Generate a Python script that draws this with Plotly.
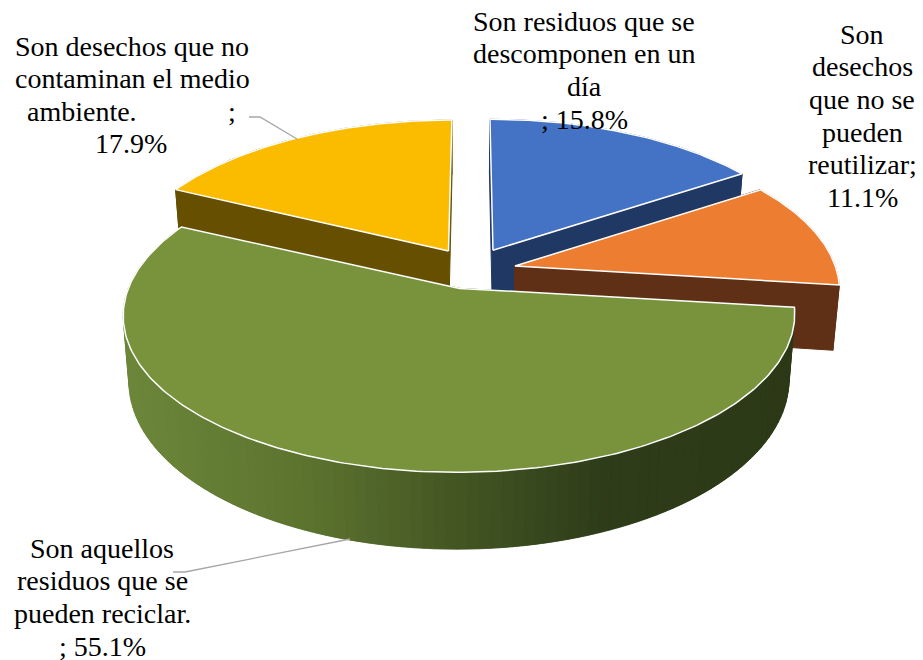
import numpy as np
import plotly.graph_objects as go

# --- data ---
blue_lines = ["Son residuos que se", "descomponen en un", "día"]
orange_lines = ["Son", "desechos", "que no se", "pueden", "reutilizar;"]
green_lines = ["Son aquellos", "residuos que se", "pueden reciclar."]
yellow_lines = ["Son desechos que no", "contaminan el medio"]
values = [15.8, 11.1, 55.1, 17.9]
top_colors = ["#4472C4", "#ED7D31", "#78933C", "#FBBC00"]
wall_colors = ["#203864", "#5F3015", "#2C3917", "#665000"]
draw_order = [3, 0, 1, 2]

# --- projection of the tilted pie ---
W, H = 923, 660
CX, CY = 472.0, 271.5
R_BACK, R_FRONT, K, P = 329.0, 331.0, 153.0, 0.168
EXPLODE, K_BACK, K_FRONT = 44.0, 0.55, 0.40
DEPTH = 64.0
VX, CONVERGE = 460.0, 0.983
total = sum(values)
edges = np.cumsum([0] + values) / total * 2 * np.pi


def is_front(i):
    return np.cos((edges[i] + edges[i + 1]) / 2) <= 0


def offset(i):
    b = (edges[i] + edges[i + 1]) / 2
    k = K_FRONT if is_front(i) else K_BACK
    return EXPLODE * np.sin(b), -EXPLODE * k * np.cos(b)


def rim(theta, i):
    dx, dy = offset(i)
    z = np.cos(theta)
    s = 1 / (1 + P * z)
    f = 1.03 if is_front(i) else 0.8 + 0.2 * z
    r = R_FRONT if is_front(i) else R_BACK
    return CX + (dx * f + r * np.sin(theta)) * s, CY + dy - K * z * s, DEPTH * s


def apex(i):
    dx, dy = offset(i)
    return CX + dx, CY + dy, DEPTH


def low(x):
    return VX + (np.asarray(x) - VX) * CONVERGE


def shade(x):
    stops_x = [120, 300, 460, 600, 800]
    r = np.interp(x, stops_x, [108, 92, 66, 46, 44])
    g = np.interp(x, stops_x, [135, 115, 84, 60, 57])
    b = np.interp(x, stops_x, [58, 47, 34, 25, 23])
    return f"rgb({r:.0f},{g:.0f},{b:.0f})"


fig = go.Figure()


def poly(xs, ys, fill, line=None, width=1):
    fig.add_trace(go.Scatter(x=xs, y=ys, mode="lines", fill="toself", fillcolor=fill,
                             line=dict(color=line or fill, width=width),
                             hoverinfo="skip", showlegend=False))


for i in draw_order:
    th = np.linspace(edges[i], edges[i + 1], 240)
    rx, ry, d = rim(th, i)
    ax, ay, ad = apex(i)
    lx, lax = low(rx), float(low(ax))
    c = wall_colors[i]
    # radial walls
    for j in (0, -1):
        poly([ax, rx[j], lx[j], lax, ax], [ay, ry[j], ry[j] + d[j], ay + ad, ay], c)
    # curved wall
    if i == 2:
        for a in range(0, 239, 2):
            b = min(a + 4, 239)
            poly([rx[a], rx[b], lx[b], lx[a], rx[a]],
                 [ry[a], ry[b], ry[b] + d[b], ry[a] + d[a], ry[a]],
                 shade((rx[a] + rx[b]) / 2), width=0.5)
    else:
        poly(np.r_[rx, lx[::-1], rx[0]], np.r_[ry, (ry + d)[::-1], ry[0]], c)
    # top face
    poly(np.r_[ax, rx, ax], np.r_[ay, ry, ay], top_colors[i], line="#FFFFFF", width=1.5)

# leader lines
fig.add_trace(go.Scatter(x=[249, 260, 297], y=[117, 117, 139], mode="lines",
                         line=dict(color="#A6A6A6", width=1.3), hoverinfo="skip", showlegend=False))
fig.add_trace(go.Scatter(x=[350, 185, 173], y=[539, 572, 572], mode="lines",
                         line=dict(color="#A6A6A6", width=1.3), hoverinfo="skip", showlegend=False))

FONT = dict(family="Liberation Serif", size=28, color="#000000")
LINE_GAP = 32.7


def label(x, y, lines):
    for n, text in enumerate(lines):
        fig.add_annotation(x=x, y=y + n * LINE_GAP, text=text, showarrow=False, xanchor="center",
                           yanchor="middle", align="center", font=FONT, xref="x", yref="y")


label(584, 21, blue_lines + [f"; {values[0]}%"])
label(862, 34, orange_lines + [f"{values[1]}%"])
label(102, 548, green_lines + [f"; {values[2]}%"])
label(132, 46, yellow_lines)
label(82, 111, ["ambiente."])
label(232, 111, [";"])
label(131, 143, [f"{values[3]}%"])

fig.update_layout(width=W, height=H, margin=dict(l=0, r=0, t=0, b=0),
                  paper_bgcolor="#FFFFFF", plot_bgcolor="#FFFFFF",
                  xaxis=dict(range=[0, W], visible=False, fixedrange=True),
                  yaxis=dict(range=[H, 0], visible=False, fixedrange=True))
fig.write_html("out.html", config={"displayModeBar": False},
               post_script="document.body.style.margin='0';document.documentElement.style.overflow='hidden';")
